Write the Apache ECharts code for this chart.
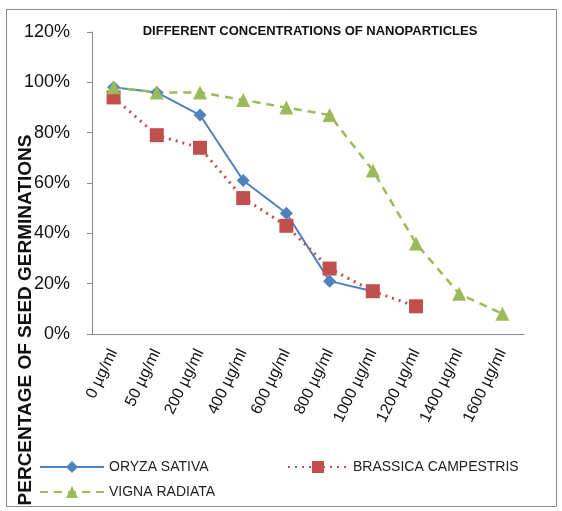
<!DOCTYPE html>
<html>
<head>
<meta charset="utf-8">
<script src="https://cdn.jsdelivr.net/npm/echarts@6/dist/echarts.min.js"></script>
<style>
  html, body { margin: 0; padding: 0; background: #fff; }
  #chart { width: 562px; height: 511px; }
</style>
</head>
<body>
<div id="chart"></div>
<script>
// concentrations on the x axis
const doses = ["0 µg/ml", "50 µg/ml", "200 µg/ml", "400 µg/ml", "600 µg/ml",
  "800 µg/ml", "1000 µg/ml", "1200 µg/ml", "1400 µg/ml", "1600 µg/ml"];
// germination percentages
const oryzaSativa = [98, 96, 87, 61, 48, 21, 17, null, null, null];
const brassicaCampestris = [94, 79, 74, 54, 43, 26, 17, 11, null, null];
const vignaRadiata = [98, 96, 96, 93, 90, 87, 65, 36, 16, 8];
const yTicks = [0, 20, 40, 60, 80, 100, 120];

const font = "'Liberation Sans', Arial, sans-serif";
let chart = echarts.init(document.getElementById("chart"));

chart.setOption({
  animation: false,
  title: {
    text: "DIFFERENT CONCENTRATIONS OF NANOPARTICLES",
    left: 305,
    top: 20,
    textAlign: "center",
    textStyle: { fontFamily: font, fontSize: 13, fontWeight: "bold", color: "#111" }
  },
  graphic: [
    {
      type: "rect",
      shape: { x: 6.5, y: 9.5, width: 550, height: 497 },
      style: { fill: "none", stroke: "#8a8a8a", lineWidth: 1 }
    },
    {
      type: "text",
      x: 26,
      y: 320,
      rotation: Math.PI / 2,
      style: {
        text: "PERCENTAGE OF SEED GERMINATIONS",
        font: "bold 19px " + font,
        fill: "#111",
        align: "center",
        verticalAlign: "middle"
      }
    }
  ],
  legend: [
    {
      data: ["ORYZA SATIVA"],
      left: 34, top: 455,
      itemWidth: 64, itemHeight: 15,
      textStyle: { fontFamily: font, fontSize: 14, color: "#222" }
    },
    {
      data: ["BRASSICA CAMPESTRIS"],
      left: 282, top: 455,
      itemWidth: 60, itemHeight: 15,
      textStyle: { fontFamily: font, fontSize: 14, color: "#222" }
    },
    {
      data: ["VIGNA RADIATA"],
      left: 34, top: 480,
      itemWidth: 64, itemHeight: 15,
      textStyle: { fontFamily: font, fontSize: 14, color: "#222" }
    }
  ],
  grid: { left: 92, right: 38, top: 32, bottom: 177 },
  xAxis: {
    type: "category",
    data: doses,
    boundaryGap: true,
    axisLine: { lineStyle: { color: "#8a8a8a" } },
    axisTick: { alignWithLabel: true, length: 5, lineStyle: { color: "#8a8a8a" } },
    axisLabel: { rotate: 64, fontFamily: font, fontSize: 16, color: "#111", margin: 16, interval: 0 }
  },
  yAxis: {
    type: "value",
    min: 0,
    max: 120,
    interval: 20,
    splitLine: { show: false },
    axisLine: { show: true, lineStyle: { color: "#8a8a8a" } },
    axisTick: { show: true, length: 5, lineStyle: { color: "#8a8a8a" } },
    axisLabel: {
      fontFamily: font, fontSize: 18, color: "#111", margin: 22,
      formatter: v => yTicks.includes(v) ? v + "%" : ""
    }
  },
  series: [
    {
      name: "ORYZA SATIVA",
      type: "line",
      data: oryzaSativa,
      color: "#4F81BD",
      symbol: "diamond",
      symbolSize: 13,
      lineStyle: { width: 2, type: "solid" }
    },
    {
      name: "BRASSICA CAMPESTRIS",
      type: "line",
      data: brassicaCampestris,
      color: "#C0504D",
      symbol: "rect",
      symbolSize: 14,
      lineStyle: { width: 3, type: [2, 5] }
    },
    {
      name: "VIGNA RADIATA",
      type: "line",
      data: vignaRadiata,
      color: "#9BBB59",
      symbol: "triangle",
      symbolSize: 14,
      lineStyle: { width: 2.5, type: [8, 6] }
    }
  ]
});
</script>
</body>
</html>
